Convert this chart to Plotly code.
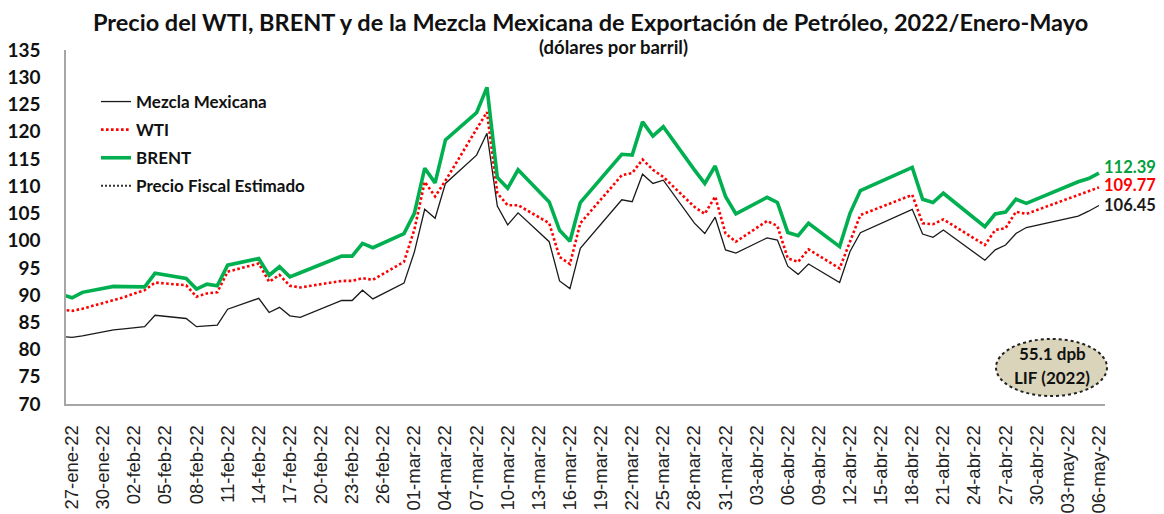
import plotly.graph_objects as go

# ---------------- data ----------------
dates = [
    "2022-01-26", "2022-01-27", "2022-01-28", "2022-01-31", "2022-02-01", "2022-02-02",
    "2022-02-03", "2022-02-04", "2022-02-07", "2022-02-08", "2022-02-09", "2022-02-10",
    "2022-02-11", "2022-02-14", "2022-02-15", "2022-02-16", "2022-02-17", "2022-02-18",
    "2022-02-22", "2022-02-23", "2022-02-24", "2022-02-25", "2022-02-28", "2022-03-01",
    "2022-03-02", "2022-03-03", "2022-03-04", "2022-03-07", "2022-03-08", "2022-03-09",
    "2022-03-10", "2022-03-11", "2022-03-14", "2022-03-15", "2022-03-16", "2022-03-17",
    "2022-03-21", "2022-03-22", "2022-03-23", "2022-03-24", "2022-03-25", "2022-03-28",
    "2022-03-29", "2022-03-30", "2022-03-31", "2022-04-01", "2022-04-04", "2022-04-05",
    "2022-04-06", "2022-04-07", "2022-04-08", "2022-04-11", "2022-04-12", "2022-04-13",
    "2022-04-18", "2022-04-19", "2022-04-20", "2022-04-21", "2022-04-25", "2022-04-26",
    "2022-04-27", "2022-04-28", "2022-04-29", "2022-05-04", "2022-05-05", "2022-05-06",
]

mezcla = [
    82.4, 82.25, 82.5, 83.6, 83.8, 84.0,
    84.2, 86.3, 85.7, 84.2, 84.4, 84.5,
    87.4, 89.4, 86.8, 87.75, 86.2, 85.9,
    89.0, 89.0, 90.9, 89.3, 92.2, 97.9,
    105.75, 104.1, 110.5, 115.7, 119.7, 106.35,
    102.9, 105.1, 99.8, 92.6, 91.2, 98.6,
    107.5, 107.15, 112.2, 110.5, 111.1, 103.2,
    101.3, 104.3, 98.3, 97.7, 100.5, 100.1,
    95.3, 93.8, 95.7, 92.3, 98.0, 101.45,
    105.75, 101.2, 100.6, 101.95, 96.4, 98.3,
    99.2, 101.3, 102.4, 104.5, 105.4, 106.45,
]

wti = [
    87.3, 87.1, 87.5, 89.0, 89.6, 90.3,
    90.9, 92.3, 91.8, 89.7, 90.3, 90.5,
    94.3, 95.8, 92.45, 93.7, 91.7, 91.4,
    92.6, 92.6, 93.1, 92.8, 96.1, 102.0,
    110.8, 108.1, 111.0, 120.5, 123.6, 108.7,
    106.5, 106.5, 103.2, 97.0, 95.7, 103.2,
    112.0, 112.4, 114.9, 113.0, 111.7, 106.2,
    104.9, 108.1, 101.3, 99.8, 103.6, 102.7,
    96.75, 96.1, 98.4, 94.9, 99.8, 104.7,
    108.4, 103.2, 103.0, 103.9, 99.2, 101.95,
    102.3, 105.3, 104.9, 108.4, 109.1, 109.77,
]

brent = [
    90.1, 89.5, 90.5, 91.6, 91.55, 91.5,
    91.5, 94.0, 93.05, 91.1, 92.0, 91.7,
    95.5, 96.7, 93.65, 95.2, 93.35, 94.1,
    97.15, 97.15, 99.5, 98.7, 101.3, 105.0,
    113.3, 110.6, 118.5, 123.5, 128.15, 111.6,
    109.6, 113.0, 107.1, 101.9, 99.9, 107.0,
    115.85, 115.7, 121.8, 119.2, 120.9, 113.0,
    110.5, 113.7, 108.1, 104.9, 107.95, 107.0,
    101.5, 100.9, 103.2, 98.9, 105.0, 109.2,
    113.45, 107.6, 107.0, 108.7, 102.55, 104.9,
    105.25, 107.6, 106.85, 110.8, 111.4, 112.39,
]

precio_fiscal = 55.1  # dpb, LIF (2022)

tick_dates = [
    "2022-01-27", "2022-01-30", "2022-02-02", "2022-02-05", "2022-02-08", "2022-02-11",
    "2022-02-14", "2022-02-17", "2022-02-20", "2022-02-23", "2022-02-26", "2022-03-01",
    "2022-03-04", "2022-03-07", "2022-03-10", "2022-03-13", "2022-03-16", "2022-03-19",
    "2022-03-22", "2022-03-25", "2022-03-28", "2022-03-31", "2022-04-03", "2022-04-06",
    "2022-04-09", "2022-04-12", "2022-04-15", "2022-04-18", "2022-04-21", "2022-04-24",
    "2022-04-27", "2022-04-30", "2022-05-03", "2022-05-06",
]
tick_labels = [
    "27-ene-22", "30-ene-22", "02-feb-22", "05-feb-22", "08-feb-22", "11-feb-22",
    "14-feb-22", "17-feb-22", "20-feb-22", "23-feb-22", "26-feb-22", "01-mar-22",
    "04-mar-22", "07-mar-22", "10-mar-22", "13-mar-22", "16-mar-22", "19-mar-22",
    "22-mar-22", "25-mar-22", "28-mar-22", "31-mar-22", "03-abr-22", "06-abr-22",
    "09-abr-22", "12-abr-22", "15-abr-22", "18-abr-22", "21-abr-22", "24-abr-22",
    "27-abr-22", "30-abr-22", "03-may-22", "06-may-22",
]

# ---------------- styling ----------------
W, H = 1164, 514
ML, MR, MT, MB = 66, 59, 50, 110
PW, PH = W - ML - MR, H - MT - MB
FONT = "Lato"
GREEN = "#00B050"
RED = "#FF0000"
BLACK = "#1A1A1A"


def px(x):
    return (x - ML) / PW


def py(y):
    return (H - MB - y) / PH


fig = go.Figure()
fig.add_trace(go.Scatter(x=dates, y=mezcla, mode="lines", name="Mezcla Mexicana",
                         line=dict(color=BLACK, width=1.3), legendgroup="a"))
fig.add_trace(go.Scatter(x=dates, y=wti, mode="lines", name="WTI",
                         line=dict(color=RED, width=2.6, dash="2.6px,2.4px"), legendgroup="b"))
fig.add_trace(go.Scatter(x=dates, y=brent, mode="lines", name="BRENT",
                         line=dict(color=GREEN, width=3.6), legendgroup="c"))
fig.add_trace(go.Scatter(x=dates, y=[precio_fiscal] * len(dates), mode="lines",
                         name="Precio Fiscal Estimado",
                         line=dict(color="#333333", width=2, dash="2px,2px"), legendgroup="d"))

# end-of-series labels
for series, color, shift in ((brent, "#00A03C", 6), (wti, RED, 2), (mezcla, BLACK, 0)):
    fig.add_annotation(x=dates[-1], y=series[-1], xref="x", yref="y",
                       text=f"{series[-1]:.2f}", showarrow=False,
                       xanchor="left", yanchor="middle", xshift=3, yshift=shift,
                       font=dict(family=FONT, size=16.5, color=color, weight="bold"))

# title & subtitle
fig.add_annotation(x=px(590), y=py(22), xref="paper", yref="paper",
                   text="Precio del WTI, BRENT y de la Mezcla Mexicana de Exportación de Petróleo, 2022/Enero-Mayo",
                   showarrow=False, xanchor="center", yanchor="middle",
                   font=dict(family=FONT, size=23.5, color="#111111", weight="bold"))
fig.add_annotation(x=px(613), y=py(47), xref="paper", yref="paper",
                   text="(dólares por barril)", showarrow=False,
                   xanchor="center", yanchor="middle",
                   font=dict(family=FONT, size=18.5, color="#111111", weight="bold"))

# LIF ellipse
fig.add_shape(type="circle", xref="paper", yref="paper",
              x0=px(996), x1=px(1107), y0=py(396), y1=py(339),
              fillcolor="#D9D4BA", line=dict(color="#222222", width=2, dash="dot"),
              layer="above")
fig.add_annotation(x=px(1052), y=py(353), xref="paper", yref="paper",
                   text="55.1 dpb", showarrow=False, xanchor="center", yanchor="middle",
                   font=dict(family=FONT, size=17, color="#111111", weight="bold"))
fig.add_annotation(x=px(1052), y=py(377), xref="paper", yref="paper",
                   text="LIF (2022)", showarrow=False, xanchor="center", yanchor="middle",
                   font=dict(family=FONT, size=17, color="#111111", weight="bold"))

fig.update_layout(
    width=W, height=H,
    margin=dict(l=ML, r=MR, t=MT, b=MB, autoexpand=False),
    paper_bgcolor="white", plot_bgcolor="white",
    showlegend=True,
    legend=dict(x=px(96), y=py(84), xanchor="left", yanchor="top",
                bgcolor="rgba(0,0,0,0)",
                font=dict(family=FONT, size=17, color="#111111", weight="bold"),
                tracegroupgap=3, traceorder="grouped", itemwidth=30,
                itemclick=False),
    font=dict(family=FONT),
)

fig.update_xaxes(
    type="date", automargin=False,
    range=["2022-01-26 10:00", "2022-05-06 14:00"],
    tickvals=tick_dates, ticktext=tick_labels,
    tickangle=-90,
    tickfont=dict(family="Liberation Sans", size=18.5, color="#222222"),
    showgrid=False, zeroline=False,
    showline=True, linecolor="#A6A6A6", linewidth=1.5,
    ticks="", ticklabelstandoff=12,
)
fig.update_yaxes(
    range=[70, 135], tickvals=list(range(70, 136, 5)), automargin=False,
    tickfont=dict(family=FONT, size=19, color="#111111", weight="bold"),
    showgrid=False, zeroline=False,
    showline=True, linecolor="#A6A6A6", linewidth=1.5,
    ticks="", ticklabelstandoff=20,
)

fig.write_html("out.html", config={"displayModeBar": False},
               post_script="document.body.style.margin='0';")
